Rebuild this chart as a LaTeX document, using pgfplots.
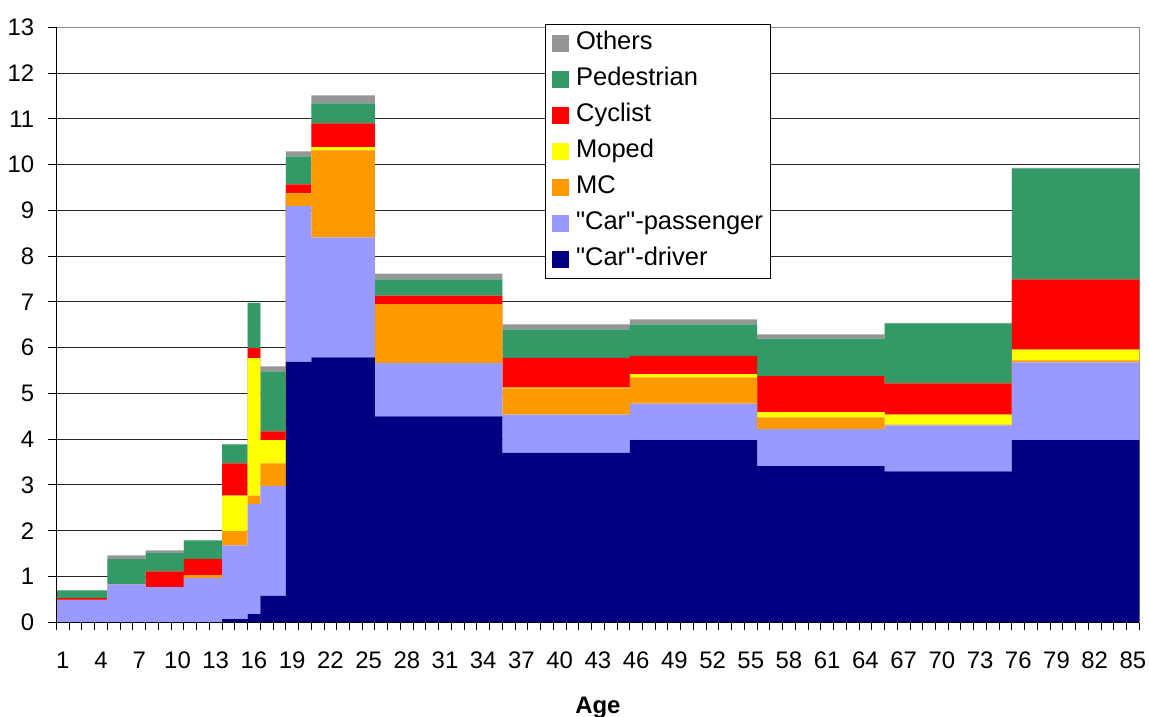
\documentclass[border=0pt]{standalone}
\usepackage{pgfplots}
\pgfplotsset{compat=1.18}
\usepackage{pgfplotstable}
\usepackage{fontspec}
\setmainfont{Liberation Sans}
\definecolor{cOthers}{HTML}{969696}
\definecolor{cPed}{HTML}{339966}
\definecolor{cCyc}{HTML}{FF0000}
\definecolor{cMoped}{HTML}{FFFF00}
\definecolor{cMC}{HTML}{FF9900}
\definecolor{cPass}{HTML}{9999FF}
\definecolor{cDriver}{HTML}{000080}

% x = left edge of each age group (last row closes the final group)
\pgfplotstableread{
x    driver pass  mc   moped cyc  ped  oth
0.5  0      0.49  0    0     0.04 0.17 0
4.5  0      0.83  0    0     0    0.55 0.08
7.5  0      0.77  0    0     0.34 0.40 0.06
10.5 0      0.97  0.06 0     0.35 0.41 0
13.5 0.07   1.61  0.31 0.78  0.70 0.42 0
15.5 0.18   2.40  0.19 3.00  0.22 0.99 0
16.5 0.575  2.405 0.49 0.51  0.19 1.31 0.11
18.5 5.69   3.41  0.27 0     0.20 0.61 0.11
20.5 5.79   2.62  1.90 0.07  0.52 0.44 0.17
25.5 4.50   1.16  1.29 0     0.19 0.35 0.13
35.5 3.70   0.84  0.57 0.02  0.65 0.62 0.11
45.5 3.98   0.80  0.57 0.07  0.40 0.69 0.11
55.5 3.41   0.81  0.26 0.11  0.79 0.82 0.09
65.5 3.30   1.00  0.02 0.22  0.68 1.31 0.01
75.5 3.98   1.70  0.04 0.24  1.53 2.43 0.01
85.5 3.98   1.70  0.04 0.24  1.53 2.43 0.01
}\data

\begin{document}
\begin{tikzpicture}
\useasboundingbox (-28.25bp,-47.35bp) rectangle (546.25bp,311.15bp);
\begin{axis}[
  at={(0,0)}, anchor=south west,
  scale only axis, width=541.4bp, height=297.5bp,
  xmin=0.5, xmax=85.5, ymin=0, ymax=13,
  stack plots=y,
  xtick={0.5,1.5,...,85.5},
  xticklabels={},
  extra x ticks={1,4,...,85},
  extra x tick style={major tick length=0pt, tick style={draw=none},
    xticklabel style={anchor=base, yshift=-23bp}},
  ytick={0,1,...,13},
  xtick pos=bottom, ytick pos=left,
  tick align=outside,
  major tick length=4bp,
  tick style={black, line width=0.5bp},
  ymajorgrids,
  major grid style={black!85, line width=0.5bp},
  axis line style={black!45, line width=0.6bp},
  /pgf/number format/assume math mode=true,
  tick label style={font=\fontsize{12}{14}\selectfont, inner sep=0pt},
  yticklabel style={anchor=east, xshift=-7bp},
  xlabel={Age},
  xlabel style={font=\fontsize{12}{14}\selectfont\bfseries, at={(axis description cs:0.5,0)}, anchor=base, yshift=-45.5bp, inner sep=0pt},
  reverse legend,
  legend cell align=left,
  legend style={at={(0.4515,1.005)}, anchor=north west, draw=black, line width=0.5bp, fill=white,
    font=\fontsize{12.8}{14}\selectfont, row sep=4bp, inner xsep=3bp, inner ysep=2.5bp,
    nodes={text height=9bp, text depth=3bp, inner sep=1bp},
    /tikz/every odd column/.append style={column sep=2.5bp}},
  legend image code/.code={\fill[#1] (0bp,-4.3bp) rectangle (8.6bp,4.3bp);},
  every axis plot/.append style={const plot mark left, draw=none},
  after end axis/.code={
    \draw[black, line width=0.6bp] (rel axis cs:0,1) -- (rel axis cs:0,0) -- (rel axis cs:1,0);
  },
]
\addplot[fill=cDriver] table[x=x,y=driver]{\data} \closedcycle;
\addlegendentry{\textquotedbl Car\textquotedbl-driver}
\addplot[fill=cPass] table[x=x,y=pass]{\data} \closedcycle;
\addlegendentry{\textquotedbl Car\textquotedbl-passenger}
\addplot[fill=cMC] table[x=x,y=mc]{\data} \closedcycle;
\addlegendentry{MC}
\addplot[fill=cMoped] table[x=x,y=moped]{\data} \closedcycle;
\addlegendentry{Moped}
\addplot[fill=cCyc] table[x=x,y=cyc]{\data} \closedcycle;
\addlegendentry{Cyclist}
\addplot[fill=cPed] table[x=x,y=ped]{\data} \closedcycle;
\addlegendentry{Pedestrian}
\addplot[fill=cOthers] table[x=x,y=oth]{\data} \closedcycle;
\addlegendentry{Others}
\end{axis}
\end{tikzpicture}
\end{document}
